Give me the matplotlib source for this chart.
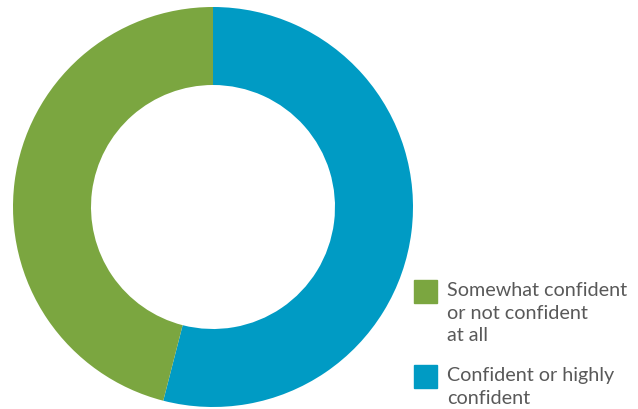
import matplotlib.pyplot as plt
from matplotlib.patches import Rectangle

labels = ["Confident or highly\nconfident", "Somewhat confident\nor not confident\nat all"]
values = [54, 46]
colors = ["#009bc4", "#7ba640"]

legend_order = [1, 0]

plt.rcParams['font.family'] = ['Lato', 'DejaVu Sans']

fig = plt.figure(figsize=(6.38, 4.10), dpi=100)
W, H = 638.0, 410.0

# donut
ax = fig.add_axes([13 / W, 2 / H, 400 / W, 400 / H])
ax.pie(values, colors=colors, startangle=90, counterclock=False,
       wedgeprops=dict(width=0.39, edgecolor="none"))
ax.set_xlim(-1, 1)
ax.set_ylim(-1, 1)
ax.set_aspect("equal")
ax.axis("off")

# legend drawn by hand so the swatch sits beside the first line
tops = [281, 366]
for top, i in zip(tops, legend_order):
    fig.patches.append(Rectangle((414 / W, 1 - (top + 23) / H), 23 / W, 23 / H,
                                 transform=fig.transFigure, color=colors[i]))
    fig.text(447 / W, 1 - (top + 1) / H, labels[i], fontsize=14.2, color="#595959",
             va="top", ha="left", linespacing=1.4)

fig.savefig("out.png", dpi=100)
